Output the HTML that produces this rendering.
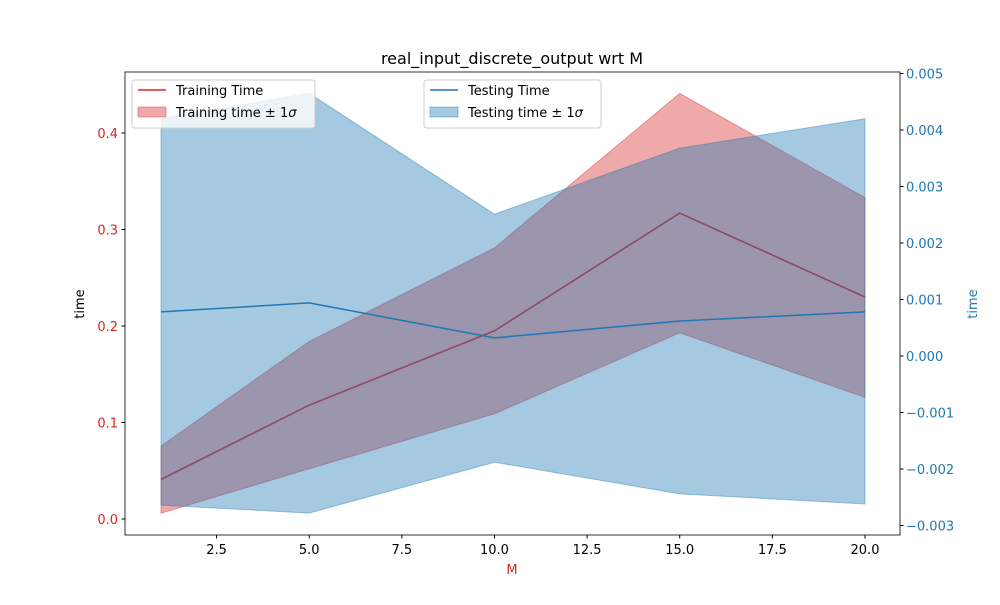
<!DOCTYPE html>
<html><head><meta charset="utf-8"><style>
body{margin:0;background:#fff;font-family:"Liberation Sans","DejaVu Sans",sans-serif}
svg text{font-family:"DejaVu Sans","Liberation Sans",sans-serif}
</style></head><body>
<svg id="chart" width="1000" height="600" xmlns="http://www.w3.org/2000/svg">
<rect width="1000" height="600" fill="#fff"/>
<g id="fills"></g><g id="lines"></g><g id="axes"></g>
</svg>
<script>
const mValues=[1,5,10,15,20];
const trainMean=[0.041,0.118,0.195,0.317,0.230];
const trainUpper=[0.0756,0.184,0.281,0.441,0.333];
const trainLower=[0.006,0.052,0.109,0.193,0.126];
const testMean=[0.00078,0.00094,0.00032,0.00062,0.00078];
const testUpper=[0.0042,0.00465,0.00251,0.00368,0.0042];
const testLower=[-0.00264,-0.00278,-0.00188,-0.00244,-0.00262];
const xTicks=[2.5,5.0,7.5,10.0,12.5,15.0,17.5,20.0];
const yLeftTicks=[0.0,0.1,0.2,0.3,0.4];
const yRightTicks=[-0.003,-0.002,-0.001,0.000,0.001,0.002,0.003,0.004,0.005];

const L=125,R=900,T=72,B=535;
const xs=v=>161+(v-1)*704/19;
const yl=v=>519-v*965;
const yr=v=>356-v*56500;
const NS="http://www.w3.org/2000/svg";
function mk(parent,tag,attrs,text){const e=document.createElementNS(NS,tag);for(const k in attrs)e.setAttribute(k,attrs[k]);if(text!==undefined)e.textContent=text;document.getElementById(parent).appendChild(e);return e;}
function band(up,lo,ys){let p=mValues.map((m,i)=>xs(m)+','+ys(up[i]));let q=mValues.map((m,i)=>xs(m)+','+ys(lo[i])).reverse();return p.concat(q).join(' ');}
function line(v,ys){return mValues.map((m,i)=>xs(m)+','+ys(v[i])).join(' ');}

let e=mk('fills','polygon',{points:band(trainUpper,trainLower,yl),fill:'#d62728','fill-opacity':0.4,stroke:'#d62728','stroke-opacity':0.4});


e=mk('lines','polyline',{points:line(trainMean,yl),fill:'none',stroke:'#d62728','stroke-width':1.5});


e=mk('lines','polygon',{points:band(testUpper,testLower,yr),fill:'#1f77b4','fill-opacity':0.4,stroke:'#1f77b4','stroke-opacity':0.4});


e=mk('lines','polyline',{points:line(testMean,yr),fill:'none',stroke:'#1f77b4','stroke-width':1.5});



e=mk('axes','rect',{x:L,y:T,width:R-L,height:B-T,fill:'none',stroke:'#000','stroke-width':0.8});


xTicks.forEach(t=>{const x=xs(t);mk('axes','line',{x1:x,x2:x,y1:B,y2:B+3.5,stroke:'#000'});
e=mk('axes','text',{x:x,y:B+19,'font-size':13,'text-anchor':'middle'},t.toFixed(1));

});
yLeftTicks.forEach(t=>{const y=yl(t);mk('axes','line',{x1:L-3.5,x2:L,y1:y,y2:y,stroke:'#000'});
e=mk('axes','text',{x:L-7,y:y+5,'font-size':13,'text-anchor':'end',fill:'#d62728'},t.toFixed(1));

});
yRightTicks.forEach(t=>{const y=yr(t);mk('axes','line',{x1:R,x2:R+3.5,y1:y,y2:y,stroke:'#000'});
e=mk('axes','text',{x:R+6,y:y+5,'font-size':13,fill:'#1f77b4'},(t<0?'\u2212':'')+Math.abs(t).toFixed(3));

});
</script>
<svg style="position:absolute;left:0;top:0" width="1000" height="600">
<text x="512" y="64" font-size="16" text-anchor="middle" font-family="DejaVu Sans">real_input_discrete_output wrt M</text>
<text x="512" y="574" font-size="13" text-anchor="middle" fill="#d62728" font-family="DejaVu Sans">M</text>
<text x="84" y="304" font-size="13" text-anchor="middle" transform="rotate(-90 84 304)" font-family="DejaVu Sans">time</text>
<text x="977" y="304" font-size="13" text-anchor="middle" fill="#1f77b4" transform="rotate(-90 977 304)" font-family="DejaVu Sans">time</text>
<g>
<rect x="132" y="80" width="183" height="48" rx="3" fill="#fff" fill-opacity="0.8" stroke="#ccc"/>
<line x1="138" x2="166" y1="90" y2="90" stroke="#d62728" stroke-width="1.5"/>
<text x="176" y="95" font-size="13" font-family="DejaVu Sans">Training Time</text>
<rect x="138" y="107" width="28" height="10" fill="#d62728" fill-opacity="0.4" stroke="#d62728" stroke-opacity="0.4"/>
<text x="176" y="117" font-size="13" font-family="DejaVu Sans">Training time ± 1<tspan font-style="italic">σ</tspan></text>
</g>
<g>
<rect x="424" y="80" width="177" height="48" rx="3" fill="#fff" fill-opacity="0.8" stroke="#ccc"/>
<line x1="430" x2="458" y1="90" y2="90" stroke="#1f77b4" stroke-width="1.5"/>
<text x="468" y="95" font-size="13" font-family="DejaVu Sans">Testing Time</text>
<rect x="430" y="107" width="28" height="10" fill="#1f77b4" fill-opacity="0.4" stroke="#1f77b4" stroke-opacity="0.4"/>
<text x="468" y="117" font-size="13" font-family="DejaVu Sans">Testing time ± 1<tspan font-style="italic">σ</tspan></text>
</g>
</svg>
</body></html>
